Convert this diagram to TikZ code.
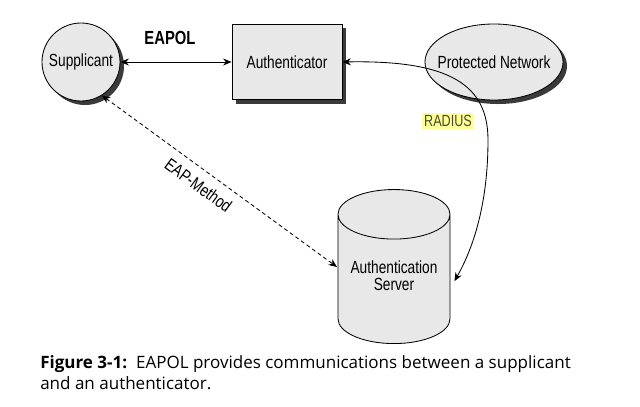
\documentclass[tikz,border=0pt]{standalone}
\usepackage{fontspec}
\usepackage{xcolor}
\usepackage{tikz}
\usetikzlibrary{shapes.geometric, arrows.meta, positioning, calc, shadows}
\newfontfamily\diagfont[FakeStretch=0.78]{Liberation Sans}
\newfontfamily\capfont{Open Sans}
\definecolor{eapfill}{HTML}{E8E8E8}
\definecolor{eapshadow}{HTML}{3A3A3A}
\definecolor{eapmark}{HTML}{FFFF99}
\definecolor{eapmarktext}{HTML}{4A4A2A}
\tikzset{
    netbox/.style={draw=black, line width=0.6pt, fill=eapfill, font=\diagfont\fontsize{12.5}{14}\selectfont, align=center},
    shadowed/.style={drop shadow={opacity=1, fill=eapshadow, shadow xshift=0.1cm, shadow yshift=-0.1cm}},
    link/.style={line width=0.6pt, {Stealth[length=6pt,width=5pt]}-{Stealth[length=6pt,width=5pt]}},
    linklabel/.style={font=\diagfont\fontsize{12.5}{14}\selectfont}
}

\begin{document}
\begin{tikzpicture}[x=0.025cm, y=-0.025cm]
    \useasboundingbox (0,0) rectangle (640,407);

    % Supplicant, Authenticator, Protected Network
    \node[netbox, shadowed, circle, minimum size=1.95cm, inner sep=0pt] (supp) at (81,62) {Supplicant};
    \node[netbox, shadowed, rectangle, minimum width=2.75cm, minimum height=1.875cm] (auth) at (287,62) {Authenticator};
    \node[netbox, shadowed, ellipse, minimum width=3.45cm, minimum height=1.9cm, inner sep=0pt] (prot) at (494,62) {\makebox[0pt]{Protected Network}};

    % Server
    \node[netbox, cylinder, shape border rotate=90, aspect=0.57, minimum width=2.8cm, minimum height=3.85cm, inner sep=0pt, anchor=south] (server) at (394,344)
        {\raisebox{-0.07cm}[0pt][0pt]{\fontsize{12.5}{10.7}\selectfont\begin{tabular}{@{}c@{}}Authentication\\Server\end{tabular}}};

    % EAPOL
    \draw[link] (supp.east) -- (auth.west)
        node[midway, above=0.3cm, xshift=-0.15cm, font=\diagfont\bfseries\fontsize{13.5}{15}\selectfont] (eapol) {EAPOL};

    % RADIUS
    \coordinate (radbend) at (488,140);
    \draw[link] (auth.east) .. controls (450,60) and (488,85) .. (radbend)
        .. controls (488,200) and (475,245) .. ([xshift=0.1cm, yshift=-0.05cm]server.east);
    \node[linklabel, font=\diagfont\fontsize{11.5}{13}\selectfont, fill=eapmark, text=eapmarktext, inner sep=1.5pt] (radius) at (448,121) {RADIUS};

    % EAP-Method
    \draw[link, dash pattern=on 2.8pt off 2.1pt] (supp.-58) -- (337,267)
        node[linklabel, pos=0.45, sloped, below=3pt] (eapm) {EAP-Method};

    % Caption
    \node[anchor=north west, inner sep=0pt, align=left, font=\capfont\fontsize{12.1}{15}\selectfont] (caption) at (40,355)
        {\textbf{Figure 3-1:}\ \ EAPOL provides communications between a supplicant\\and an authenticator.};
\end{tikzpicture}
\end{document}
